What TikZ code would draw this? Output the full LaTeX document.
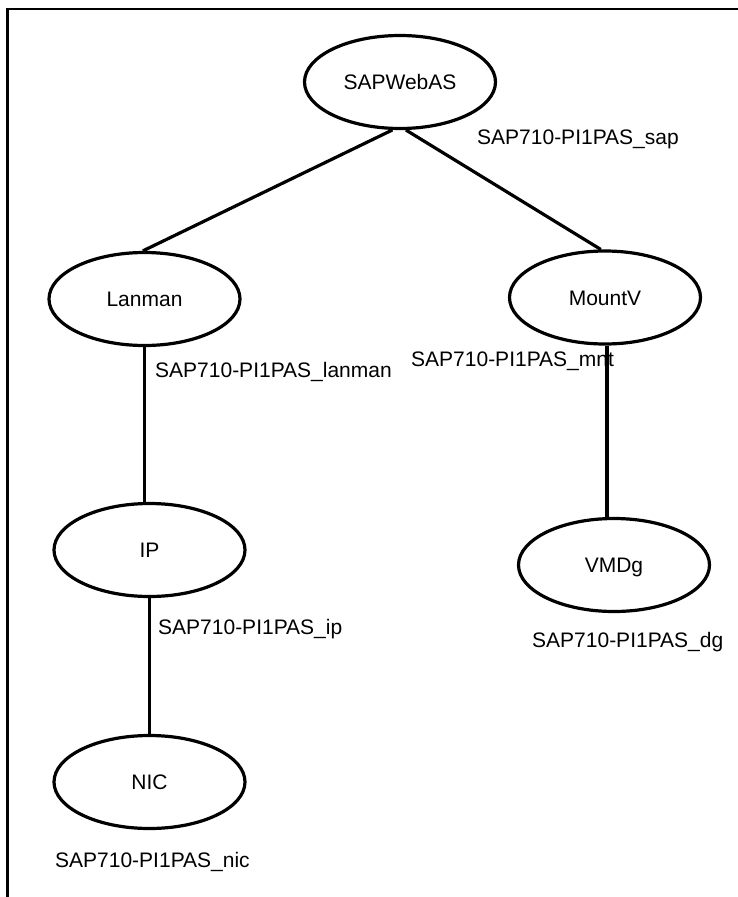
\documentclass[tikz,border=0pt]{standalone}
\usepackage{fontspec}
\setmainfont{Liberation Sans}
\usetikzlibrary{shapes.geometric}
\begin{document}
\begin{tikzpicture}[x=1pt,y=-1pt,
  every node/.style={font=\fontsize{21}{25}\selectfont},
  res/.style={ellipse,draw,line width=3.2pt,minimum width=191pt,minimum height=93pt,inner sep=0pt,text height=15pt,text depth=0pt},
  lbl/.style={anchor=base west,inner sep=0pt},
  link/.style={line width=3.2pt}]
\useasboundingbox (0,0) rectangle (738,897);
\draw[line width=2.6pt] (7.5,897) -- (7.5,9) -- (738,9);
\node[res] (sap) at (400,82) {SAPWebAS};
\node[res] (lanman) at (144.5,299) {Lanman};
\node[res] (mountv) at (605,297.5) {MountV};
\node[res] (ip) at (149.5,550) {IP};
\node[res] (vmdg) at (614,565) {VMDg};
\node[res] (nic) at (149.5,782) {NIC};
\node[lbl] (lsap) at (477,144.5) {SAP710-PI1PAS\_sap};
\node[lbl] (llanman) at (155,377.5) {SAP710-PI1PAS\_lanman};
\node[lbl] (lmnt) at (411,366.5) {SAP710-PI1PAS\_mnt};
\node[lbl] (lip) at (158,634.5) {SAP710-PI1PAS\_ip};
\node[lbl] (ldg) at (532,647) {SAP710-PI1PAS\_dg};
\node[lbl] (lnic) at (55,867.5) {SAP710-PI1PAS\_nic};
\draw[link] (sap.261) -- (lanman.92);
\draw[link] (sap.277) -- (mountv.95);
\draw[link] (lanman.south) -- (lanman.south |- ip.north);
\draw[link] (ip.south) -- (nic.north);
\draw[link] ([xshift=2pt]mountv.south) -- ([xshift=2pt]mountv.south |- vmdg.north);
\end{tikzpicture}
\end{document}
